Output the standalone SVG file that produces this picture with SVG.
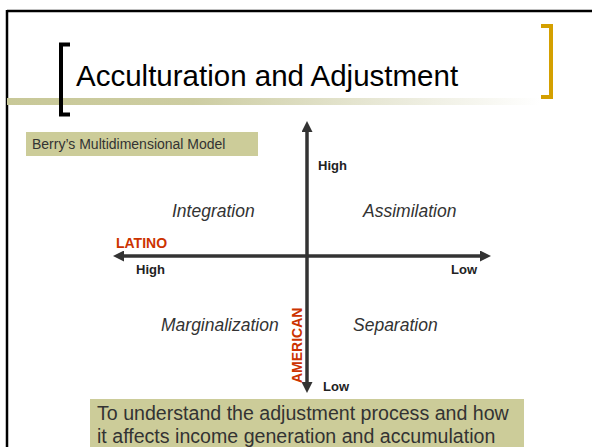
<svg xmlns="http://www.w3.org/2000/svg" width="592" height="447" viewBox="0 0 592 447">
<defs>
<linearGradient id="band" x1="7" y1="0" x2="540" y2="0" gradientUnits="userSpaceOnUse">
<stop offset="0" stop-color="#C8C898"/>
<stop offset="0.35" stop-color="#CDCDA2"/>
<stop offset="0.7" stop-color="#E8E8D6"/>
<stop offset="1" stop-color="#FFFFFF"/>
</linearGradient>
<marker id="arr" markerWidth="11" markerHeight="11" refX="7" refY="5.5" orient="auto" markerUnits="userSpaceOnUse" viewBox="0 0 11 11">
<path d="M0,0 L11,5.5 L0,11 Z" fill="#333333"/>
</marker>
<style>
.lbl{font-family:"Liberation Sans",Arial,sans-serif;font-weight:bold;font-size:13px;fill:#222222}
.red{font-family:"Liberation Sans",Arial,sans-serif;font-weight:bold;font-size:14px;fill:#CC3300}
.quad{font-family:"Liberation Sans",Arial,sans-serif;font-style:italic;font-size:17.5px;fill:#333333}
.box{fill:#CCCC99}
.btxt{font-family:"Liberation Sans",Arial,sans-serif;fill:#333333}
.axis{stroke:#333333;stroke-width:3.5;fill:none}
</style>
</defs>
<rect width="592" height="447" fill="#FFFFFF"/>
<g id="frame">
<line x1="7" y1="11" x2="592" y2="11" stroke="#000" stroke-width="2.5"/>
<line x1="7" y1="10" x2="7" y2="447" stroke="#000" stroke-width="2.5"/>
<rect x="7" y="98" width="540" height="7" fill="url(#band)"/>
<path d="M70,44.5 H61 V114.5 H70" fill="none" stroke="#000" stroke-width="4"/>
<path d="M541,26 H551 V97 H541" fill="none" stroke="#D4A000" stroke-width="4"/>
</g>
<g id="title">
<text x="76" y="86" font-family="Liberation Sans, Arial, sans-serif" font-size="29.5" fill="#000">Acculturation and Adjustment</text>
</g>
<g id="berry">
<rect class="box" x="26" y="132" width="232" height="24"/>
<text class="btxt" x="32" y="149" font-size="14">Berry’s Multidimensional Model</text>
</g>
<g id="connectors">
<line class="axis" x1="307" y1="256" x2="307" y2="125" marker-end="url(#arr)"/>
<line class="axis" x1="307" y1="256" x2="307" y2="389" marker-end="url(#arr)"/>
<line class="axis" x1="307" y1="256" x2="117" y2="256" marker-end="url(#arr)"/>
<line class="axis" x1="307" y1="256" x2="487" y2="256" marker-end="url(#arr)"/>
</g>
<g id="labels">
<text class="lbl" x="318" y="170">High</text>
<text class="lbl" x="136" y="274">High</text>
<text class="lbl" x="451" y="274">Low</text>
<text class="lbl" x="323" y="391">Low</text>
<text class="red" x="116" y="248">LATINO</text>
<text class="red" transform="translate(302,383) rotate(-90)">AMERICAN</text>
</g>
<g id="integration"><text class="quad" x="172" y="217">Integration</text></g>
<g id="assimilation"><text class="quad" x="363" y="217">Assimilation</text></g>
<g id="marginalization"><text class="quad" x="161" y="331">Marginalization</text></g>
<g id="separation"><text class="quad" x="353" y="331">Separation</text></g>
<g id="note">
<rect class="box" x="90" y="399" width="434" height="48"/>
<text class="btxt" x="97" y="420" font-size="19.6">To understand the adjustment process and how</text>
<text class="btxt" x="97" y="443" font-size="19.6">it affects income generation and accumulation</text>
</g>
</svg>
